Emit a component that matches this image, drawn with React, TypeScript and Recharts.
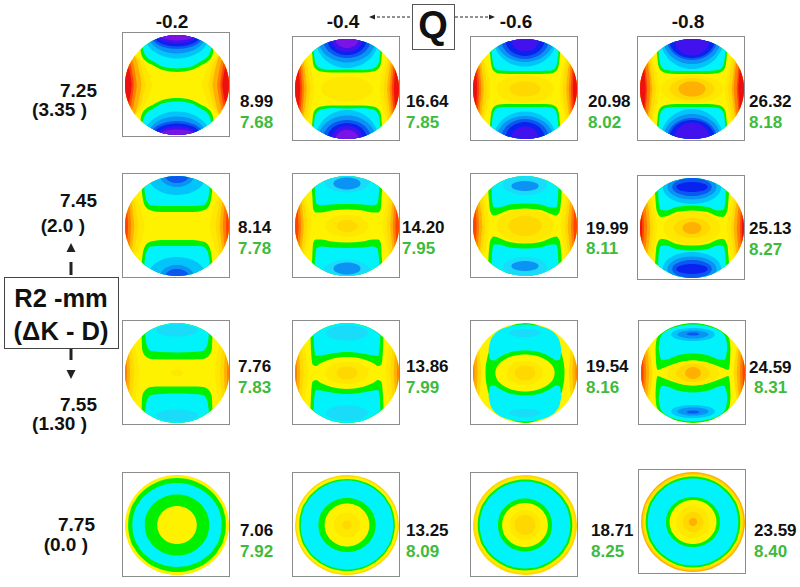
import React from 'react';
import { ComposedChart, Area, XAxis, YAxis } from 'recharts';

const qLabels = ['-0.2', '-0.4', '-0.6', '-0.8'];
const totals = ['8.99', '16.64', '20.98', '26.32', '8.14', '14.20', '19.99', '25.13', '7.76', '13.86', '19.54', '24.59', '7.06', '13.25', '18.71', '23.59'];
const greens = ['7.68', '7.85', '8.02', '8.18', '7.78', '7.95', '8.11', '8.27', '7.83', '7.99', '8.16', '8.31', '7.92', '8.09', '8.25', '8.40'];
const r2Labels = ['7.25', '7.45', '7.55', '7.75'];
const dkLabels = ['(3.35 )', '(2.0 )', '(1.30 )', '(0.0 )'];

const LEVEL_COLORS: Record<string, string> = {
  purple: '#7a14e6',
  violet: '#4212ee',
  blue: '#0a22f0',
  royal: '#0a58f0',
  azure: '#0a92f4',
  sky: '#00c4fa',
  light: '#18dcfa',
  cyan: '#00f2fa',
  green: '#00f000',
  yellow: '#fff200',
  lemon: '#ffe800',
  gold: '#ffd800',
  amber: '#ffb000',
  orange: '#ff8000',
  redorange: '#ff4400',
  red: '#ee1010',
};

// right half of a unit circle and of a side crescent, scaled per layer
const CIRCLE_X = [0, 0.15, 0.4, 0.65, 0.85, 0.96, 0.995, 1];
const CIRCLE_H = [1, 0.989, 0.917, 0.76, 0.527, 0.28, 0.1, 0];
const SIDE_T = [0, 0.08, 0.3, 0.6, 1];
const SIDE_H = [0, 0.2, 0.6, 0.85, 1];

type Layer = (string | number | number[])[];

const m11: Layer[] = [
  ['disc', 'yellow'],
  ['side', 'lemon', 0.47, 0.7], ['side', 'gold', 0.6, 0.75], ['side', 'amber', 0.68, 0.8], ['side', 'orange', 0.77, 0.7], ['side', 'redorange', 0.83, 0.6], ['side', 'red', 0.87, 0.45],
  ['cap', 'green', [0, 0.28, 0.47, 0.6, 0.67, 0.7, 0.71], [0.26, 0.3, 0.4, 0.48, 0.57, 0.7, 1]],
  ['cap', 'cyan', [0, 0.28, 0.45, 0.57, 0.63, 0.66, 0.67], [0.33, 0.37, 0.47, 0.55, 0.64, 0.76, 1]],
  ['blob', 'sky', 0.62, 0.47, 1], ['blob', 'azure', 0.55, 0.37, 1], ['blob', 'royal', 0.5, 0.28, 1], ['blob', 'blue', 0.45, 0.23, 1], ['blob', 'violet', 0.38, 0.17, 1], ['blob', 'purple', 0.33, 0.11, 1],
];
const m12: Layer[] = [
  ['disc', 'yellow'],
  ['side', 'lemon', 0.62, 0.9], ['side', 'gold', 0.7, 0.95], ['side', 'amber', 0.77, 0.95], ['side', 'orange', 0.82, 0.95], ['side', 'redorange', 0.86, 0.85], ['side', 'red', 0.9, 0.7],
  ['blob', 'lemon', 0.5, 0.25, 0],
  ['cap', 'green', [0, 0.3, 0.5, 0.6, 0.65, 0.67, 0.69], [0.33, 0.33, 0.35, 0.4, 0.5, 0.7, 1]],
  ['cap', 'cyan', [0, 0.3, 0.5, 0.58, 0.62, 0.64, 0.66], [0.39, 0.38, 0.41, 0.47, 0.57, 0.76, 1]],
  ['blob', 'sky', 0.6, 0.58, 1], ['blob', 'azure', 0.55, 0.47, 1], ['blob', 'royal', 0.46, 0.38, 1], ['blob', 'blue', 0.38, 0.32, 1], ['blob', 'violet', 0.3, 0.26, 1], ['blob', 'purple', 0.22, 0.18, 1],
];
const m13: Layer[] = [
  ['disc', 'yellow'],
  ['side', 'lemon', 0.66, 0.9], ['side', 'gold', 0.72, 0.95], ['side', 'amber', 0.79, 0.95], ['side', 'orange', 0.84, 0.95], ['side', 'redorange', 0.88, 0.85], ['side', 'red', 0.92, 0.7],
  ['blob', 'lemon', 0.55, 0.28, 0], ['blob', 'gold', 0.3, 0.15, 0],
  ['cap', 'green', [0, 0.3, 0.5, 0.6, 0.65, 0.67, 0.69], [0.3, 0.3, 0.31, 0.36, 0.48, 0.68, 1]],
  ['cap', 'cyan', [0, 0.3, 0.5, 0.58, 0.62, 0.64, 0.66], [0.36, 0.36, 0.37, 0.42, 0.54, 0.72, 1]],
  ['blob', 'sky', 0.6, 0.55, 1], ['blob', 'azure', 0.55, 0.46, 1], ['blob', 'royal', 0.46, 0.4, 1], ['blob', 'blue', 0.38, 0.34, 1], ['blob', 'violet', 0.27, 0.25, 1],
];
const m14: Layer[] = [
  ['disc', 'yellow'],
  ['side', 'lemon', 0.62, 0.9], ['side', 'gold', 0.69, 0.95], ['side', 'amber', 0.76, 0.95], ['side', 'orange', 0.8, 0.95], ['side', 'redorange', 0.86, 0.85], ['side', 'red', 0.89, 0.75],
  ['blob', 'lemon', 0.6, 0.28, 0], ['blob', 'gold', 0.43, 0.22, 0], ['blob', 'amber', 0.26, 0.15, 0],
  ['cap', 'green', [0, 0.3, 0.5, 0.6, 0.65, 0.67, 0.69], [0.3, 0.3, 0.32, 0.37, 0.48, 0.68, 1]],
  ['cap', 'cyan', [0, 0.3, 0.5, 0.58, 0.62, 0.64, 0.66], [0.36, 0.36, 0.38, 0.43, 0.54, 0.72, 1]],
  ['blob', 'sky', 0.6, 0.6, 1], ['blob', 'azure', 0.55, 0.5, 1], ['blob', 'royal', 0.48, 0.42, 1], ['blob', 'blue', 0.44, 0.38, 1], ['blob', 'violet', 0.34, 0.33, 1],
];
const m21: Layer[] = [
  ['disc', 'yellow'],
  ['side', 'lemon', 0.62, 0.75], ['side', 'gold', 0.74, 0.8], ['side', 'amber', 0.82, 0.8], ['side', 'orange', 0.88, 0.7], ['side', 'redorange', 0.94, 0.5],
  ['cap', 'green', [0, 0.3, 0.5, 0.6, 0.66, 0.68, 0.7], [0.28, 0.28, 0.31, 0.38, 0.56, 0.75, 1]],
  ['cap', 'cyan', [0, 0.3, 0.5, 0.58, 0.62, 0.64], [0.4, 0.4, 0.41, 0.5, 0.68, 1]],
  ['blob', 'sky', 0.55, 0.38, 1], ['blob', 'azure', 0.32, 0.22, 1], ['blob', 'royal', 0.22, 0.14, 1],
];
const m22: Layer[] = [
  ['disc', 'yellow'],
  ['side', 'lemon', 0.68, 0.85], ['side', 'gold', 0.76, 0.9], ['side', 'amber', 0.83, 0.85], ['side', 'orange', 0.88, 0.75], ['side', 'redorange', 0.93, 0.6],
  ['blob', 'lemon', 0.42, 0.22, 0], ['blob', 'gold', 0.2, 0.12, 0],
  ['cap', 'green', [0, 0.3, 0.5, 0.6, 0.65, 0.67, 0.7], [0.33, 0.31, 0.27, 0.27, 0.34, 0.65, 1]],
  ['cap', 'cyan', [0, 0.3, 0.5, 0.58, 0.61, 0.63], [0.44, 0.43, 0.41, 0.44, 0.6, 1]],
  ['blob', 'light', 0.45, 0.25, 0.92], ['blob', 'azure', 0.26, 0.12, 0.85],
];
const m23: Layer[] = [
  ['disc', 'yellow'],
  ['side', 'lemon', 0.68, 0.9], ['side', 'gold', 0.76, 0.9], ['side', 'amber', 0.82, 0.85], ['side', 'orange', 0.88, 0.75], ['side', 'redorange', 0.93, 0.6],
  ['blob', 'lemon', 0.55, 0.33, 0], ['blob', 'gold', 0.32, 0.2, 0],
  ['cap', 'green', [0, 0.3, 0.5, 0.6, 0.67, 0.7, 0.72], [0.35, 0.32, 0.24, 0.21, 0.3, 0.6, 1]],
  ['cap', 'cyan', [0, 0.3, 0.5, 0.6, 0.63, 0.65], [0.45, 0.43, 0.37, 0.37, 0.5, 1]],
  ['blob', 'light', 0.42, 0.2, 0.82], ['blob', 'azure', 0.26, 0.1, 0.8],
];
const m24: Layer[] = [
  ['disc', 'yellow'],
  ['side', 'lemon', 0.66, 0.9], ['side', 'gold', 0.74, 0.9], ['side', 'amber', 0.8, 0.9], ['side', 'orange', 0.86, 0.8], ['side', 'redorange', 0.92, 0.65], ['side', 'red', 0.96, 0.45],
  ['blob', 'lemon', 0.55, 0.33, 0], ['blob', 'gold', 0.35, 0.2, 0], ['blob', 'amber', 0.18, 0.12, 0],
  ['cap', 'green', [0, 0.3, 0.5, 0.6, 0.68, 0.71, 0.73], [0.35, 0.32, 0.23, 0.22, 0.35, 0.68, 1]],
  ['cap', 'cyan', [0, 0.3, 0.5, 0.6, 0.64, 0.66], [0.45, 0.42, 0.35, 0.36, 0.52, 1]],
  ['blob', 'sky', 0.56, 0.34, 0.82], ['blob', 'azure', 0.47, 0.25, 0.82], ['blob', 'royal', 0.38, 0.18, 0.82], ['blob', 'blue', 0.3, 0.1, 0.82],
];
const m31: Layer[] = [
  ['disc', 'yellow'],
  ['side', 'lemon', 0.72, 0.85], ['side', 'gold', 0.82, 0.8], ['side', 'amber', 0.9, 0.7], ['side', 'orange', 0.96, 0.45],
  ['blob', 'lemon', 0.12, 0.07, 0],
  ['cap', 'green', [0, 0.3, 0.5, 0.6, 0.67, 0.68, 0.7], [0.27, 0.27, 0.28, 0.33, 0.47, 0.7, 1]],
  ['cap', 'cyan', [0, 0.3, 0.5, 0.58, 0.61, 0.63], [0.41, 0.42, 0.44, 0.55, 0.75, 1]],
  ['blob', 'light', 0.4, 0.12, 0.85],
];
const m32: Layer[] = [
  ['disc', 'yellow'],
  ['side', 'lemon', 0.74, 0.9], ['side', 'gold', 0.83, 0.85], ['side', 'amber', 0.9, 0.75], ['side', 'orange', 0.96, 0.5],
  ['blob', 'lemon', 0.42, 0.22, 0], ['blob', 'gold', 0.2, 0.13, 0],
  ['cap', 'green', [0, 0.3, 0.5, 0.6, 0.66, 0.69, 0.71], [0.32, 0.28, 0.2, 0.14, 0.17, 0.42, 1]],
  ['cap', 'cyan', [0, 0.3, 0.5, 0.6, 0.63, 0.65], [0.42, 0.39, 0.35, 0.34, 0.5, 1]],
  ['blob', 'light', 0.4, 0.15, 0.8],
];
const m33: Layer[] = [
  ['disc', 'yellow'],
  ['side', 'gold', 0.84, 0.85], ['side', 'amber', 0.91, 0.75], ['side', 'orange', 0.97, 0.5],
  ['blob', 'green', 0.76, 1, 0],
  ['cap', 'cyan', [0, 0.3, 0.5, 0.6, 0.67, 0.7], [0.45, 0.41, 0.31, 0.25, 0.27, 0.46], [0.97, 0.93, 0.85, 0.76, 0.62, 0.47]],
  ['blob', 'light', 0.3, 0.08, 0.8],
  ['blob', 'yellow', 0.57, 0.37, 0], ['blob', 'lemon', 0.35, 0.24, 0], ['blob', 'gold', 0.2, 0.15, 0],
];
const m34: Layer[] = [
  ['disc', 'yellow'],
  ['side', 'gold', 0.78, 0.9], ['side', 'amber', 0.84, 0.9], ['side', 'orange', 0.9, 0.8], ['side', 'redorange', 0.95, 0.6],
  ['cap', 'green', [0, 0.3, 0.5, 0.6, 0.68, 0.71, 0.72], [0.25, 0.2, 0.13, 0.09, 0.06, 0.2, 0.45], [1, 0.96, 0.88, 0.8, 0.72, 0.62, 0.47]],
  ['cap', 'cyan', [0, 0.3, 0.5, 0.6, 0.64, 0.66], [0.39, 0.35, 0.27, 0.26, 0.36, 0.5], [0.97, 0.93, 0.85, 0.76, 0.66, 0.52]],
  ['blob', 'sky', 0.42, 0.13, 0.77], ['blob', 'azure', 0.3, 0.08, 0.77], ['blob', 'royal', 0.12, 0.03, 0.78],
  ['blob', 'lemon', 0.5, 0.25, 0], ['blob', 'gold', 0.32, 0.18, 0], ['blob', 'amber', 0.15, 0.12, 0],
];
const m41: Layer[] = [
  ['disc', 'lemon'],
  ['blob', 'yellow', 0.99, 0.99, 0], ['blob', 'green', 0.94, 0.94, 0], ['blob', 'cyan', 0.86, 0.84, 0], ['blob', 'green', 0.62, 0.61, 0], ['blob', 'yellow', 0.38, 0.38, 0],
];
const m42: Layer[] = [
  ['disc', 'gold'],
  ['blob', 'yellow', 0.97, 0.97, 0], ['blob', 'green', 0.92, 0.92, 0], ['blob', 'cyan', 0.89, 0.89, 0], ['blob', 'green', 0.55, 0.54, 0], ['blob', 'yellow', 0.43, 0.43, 0], ['blob', 'lemon', 0.25, 0.25, 0], ['blob', 'gold', 0.09, 0.09, 0],
];
const m43: Layer[] = [
  ['disc', 'gold'],
  ['blob', 'lemon', 0.96, 0.96, 0], ['blob', 'green', 0.91, 0.91, 0], ['blob', 'cyan', 0.87, 0.87, 0], ['blob', 'green', 0.52, 0.53, 0], ['blob', 'yellow', 0.44, 0.44, 0], ['blob', 'lemon', 0.3, 0.3, 0], ['blob', 'gold', 0.2, 0.2, 0],
];
const m44: Layer[] = [
  ['disc', 'amber'],
  ['blob', 'gold', 0.97, 0.97, 0], ['blob', 'lemon', 0.94, 0.94, 0], ['blob', 'green', 0.91, 0.91, 0], ['blob', 'cyan', 0.87, 0.87, 0], ['blob', 'green', 0.52, 0.5, 0], ['blob', 'yellow', 0.45, 0.44, 0], ['blob', 'lemon', 0.32, 0.32, 0], ['blob', 'gold', 0.2, 0.2, 0], ['blob', 'amber', 0.08, 0.08, 0],
];

const maps = [m11, m12, m13, m14, m21, m22, m23, m24, m31, m32, m33, m34, m41, m42, m43, m44];

// layout, page pixels
const discX = [176.7, 347, 525, 692, 176.7, 347, 525, 692, 176.7, 347, 525, 693, 176.7, 347, 525, 693];
const discY = [85, 89, 89, 89, 226, 226, 226, 228, 373, 373, 373, 373, 525, 525, 525, 522];
const totalX = [240, 406, 588, 749, 238, 402, 586, 749, 238, 406, 586, 749, 240, 406, 591, 754];
const totalY = [101, 101, 101, 101, 227, 227, 228, 228, 366, 366, 366, 367, 530, 530, 530, 530];
const greenX = [240, 406, 588, 749, 238, 402, 586, 749, 238, 406, 586, 754, 240, 406, 591, 754];
const greenY = [122, 122, 122, 122, 248, 248, 248, 249, 387, 387, 387, 387, 551, 551, 551, 551];
const qX = [172, 343, 516, 688];

const mirrorRows = (xs: number[], ys: [number, number][]) => {
  const rows = xs.map((x, i) => ({ x, r: ys[i] }));
  const left = rows.filter((d) => d.x > 0).map((d) => ({ x: -d.x, r: d.r })).reverse();
  return [...left, ...rows];
};

const buildAreas = (layers: Layer[]) => {
  const out: { level: string; rows: { x: number; r: [number, number] }[] }[] = [];
  layers.forEach((l) => {
    const kind = l[0] as string;
    const level = l[1] as string;
    if (kind === 'disc') {
      out.push({ level, rows: [{ x: -1, r: [-1, 1] }, { x: 1, r: [-1, 1] }] });
    } else if (kind === 'side') {
      const a = l[2] as number;
      const h = l[3] as number;
      const right = SIDE_T.map((t, i) => ({ x: a + (1 - a) * t, r: [-h * SIDE_H[i], h * SIDE_H[i]] as [number, number] }));
      out.push({ level, rows: right });
      out.push({ level, rows: right.map((d) => ({ x: -d.x, r: d.r })).reverse() });
    } else if (kind === 'cap') {
      const xs = l[2] as number[];
      const lo = l[3] as number[];
      const hi = l[4] as number[] | undefined;
      out.push({ level, rows: mirrorRows(xs, xs.map((_, i) => [lo[i], hi ? hi[i] : 1])) });
      out.push({ level, rows: mirrorRows(xs, xs.map((_, i) => [hi ? -hi[i] : -1, -lo[i]])) });
    } else {
      const rx = l[2] as number;
      const ry = l[3] as number;
      const cy = l[4] as number;
      const xs = CIRCLE_X.map((u) => u * rx);
      out.push({ level, rows: mirrorRows(xs, CIRCLE_H.map((u) => [cy - ry * u, cy + ry * u])) });
      if (cy !== 0) out.push({ level, rows: mirrorRows(xs, CIRCLE_H.map((u) => [-cy - ry * u, -cy + ry * u])) });
    }
  });
  return out;
};

const TopoMap = ({ layers, cx, cy }: { layers: Layer[]; cx: number; cy: number }) => (
  <>
    <div style={{ position: 'absolute', left: cx - 54.7, top: cy - 53, width: 106, height: 103, border: '1.5px solid #8c8c8c' }} />
    <div style={{ position: 'absolute', left: cx - 52, top: cy - 50, width: 104, height: 100, borderRadius: '50%', overflow: 'hidden' }}>
      <ComposedChart width={104} height={100} margin={{ top: 0, right: 0, bottom: 0, left: 0 }}>
        <XAxis hide type="number" dataKey="x" domain={[-1, 1]} allowDataOverflow />
        <YAxis hide type="number" domain={[-1, 1]} allowDataOverflow />
        {buildAreas(layers).map((a, i) => (
          <Area
            key={i}
            data={a.rows}
            dataKey="r"
            type="monotone"
            fill={LEVEL_COLORS[a.level]}
            fillOpacity={1}
            stroke="none"
            dot={false}
            activeDot={false}
            isAnimationActive={false}
          />
        ))}
      </ComposedChart>
    </div>
  </>
);

const Txt = ({ x, y, size, color = '#111', anchor = 'left', children }: any) => (
  <div
    style={{
      position: 'absolute',
      left: x,
      top: y,
      transform: `translate(${anchor === 'center' ? '-50%' : anchor === 'right' ? '-100%' : '0'}, -50%)`,
      fontSize: size,
      fontWeight: 700,
      color,
      whiteSpace: 'pre',
      lineHeight: 1,
    }}
  >
    {children}
  </div>
);

export default function App() {
  return (
    <div style={{ position: 'absolute', left: 0, top: 0, width: 800, height: 587, background: '#fff', overflow: 'hidden', fontFamily: '"Liberation Sans", Arial, sans-serif' }}>
      {maps.map((m, i) => (
        <TopoMap key={i} layers={m} cx={discX[i]} cy={discY[i]} />
      ))}
      {totals.map((t, i) => (
        <Txt key={i} x={totalX[i]} y={totalY[i]} size={17}>{t}</Txt>
      ))}
      {greens.map((t, i) => (
        <Txt key={i} x={greenX[i]} y={greenY[i]} size={17} color="#3dbb3d">{t}</Txt>
      ))}
      {qLabels.map((t, i) => (
        <Txt key={i} x={qX[i]} y={21} size={19} anchor="center">{t}</Txt>
      ))}

      <div style={{ position: 'absolute', left: 411.5, top: 4, width: 41, height: 44, border: '1.5px solid #555', background: '#fff' }} />
      <Txt x={433} y={25} size={38} anchor="center">Q</Txt>

      <Txt x={97} y={89.5} size={19} anchor="right">{r2Labels[0]}</Txt>
      <Txt x={87} y={109} size={19} anchor="right">{dkLabels[0]}</Txt>
      <Txt x={97} y={200} size={19} anchor="right">{r2Labels[1]}</Txt>
      <Txt x={85} y={225} size={19} anchor="right">{dkLabels[1]}</Txt>
      <Txt x={97} y={403.5} size={19} anchor="right">{r2Labels[2]}</Txt>
      <Txt x={87} y={423} size={19} anchor="right">{dkLabels[2]}</Txt>
      <Txt x={95} y={524} size={19} anchor="right">{r2Labels[3]}</Txt>
      <Txt x={88} y={544} size={19} anchor="right">{dkLabels[3]}</Txt>

      <div style={{ position: 'absolute', left: 4, top: 277, width: 113, height: 70, border: '1px solid #444', background: '#fff' }} />
      <Txt x={61} y={299} size={25.5} anchor="center">R2 -mm</Txt>
      <Txt x={61} y={332} size={25.5} anchor="center">(ΔK - D)</Txt>

      <svg width={800} height={587} style={{ position: 'absolute', left: 0, top: 0, pointerEvents: 'none' }}>
        <line x1={410} y1={17} x2={374} y2={17} stroke="#222" strokeDasharray="3 2" />
        <polygon points="369,17 375,14.5 375,19.5" fill="#222" />
        <line x1={455} y1={17} x2={490} y2={17} stroke="#222" strokeDasharray="3 2" />
        <polygon points="495,17 489,14.5 489,19.5" fill="#222" />
        <line x1={71} y1={262} x2={71} y2={275} stroke="#222" strokeWidth={3} />
        <polygon points="71,243 66.5,252 75.5,252" fill="#222" />
        <line x1={71} y1={349} x2={71} y2={360} stroke="#222" strokeWidth={3} />
        <polygon points="71,379 66.5,370 75.5,370" fill="#222" />
      </svg>
    </div>
  );
}
